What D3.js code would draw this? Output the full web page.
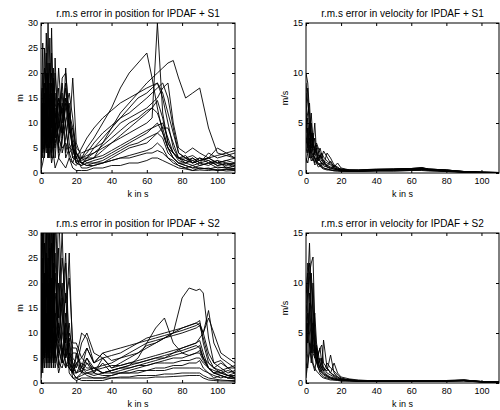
<!DOCTYPE html>
<html>
<head>
<meta charset="utf-8">
<script src="https://cdn.jsdelivr.net/npm/d3@7"></script>
<style>
  body { margin: 0; background: #fff; }
  svg { display: block; font-family: "Liberation Sans", Arial, Helvetica, sans-serif; }
</style>
</head>
<body>
<div id="chart"></div>
<script>
// time grids (s)
const kPos1 = [0,1,2,3,4,5,6,7,8,10,12,14,16,18,20,23,26,30,35,40,45,50,55,60,63,66,69,72,75,78,82,86,90,95,100,105,110];
const kPos2 = [0,1,2,3,4,5,6,7,8,10,12,14,16,18,20,23,26,30,35,40,45,50,55,60,65,70,75,80,84,88,90,92,95,98,102,106,110];
const kVel = [0,1,2,3,4,5,6,7,8,9,10,12,14,16,18,20,25,30,40,50,60,66,70,80,90,100,110];

const xTicks = [0, 20, 40, 60, 80, 100];
const posTicks = [0, 5, 10, 15, 20, 25, 30];
const velTicks = [0, 5, 10, 15];

const titles = [
  'r.m.s error in position for IPDAF + S1',
  'r.m.s error in velocity for IPDAF + S1',
  'r.m.s error in position for IPDAF + S2',
  'r.m.s error in velocity for IPDAF + S2'
];

// rms position error, S1 (m)
const posS1 = [
  [2,17,9,28,14,22,6,19,11,15,8,14,9,6,3,2,2.5,3,4.5,6,7.5,9,10.5,12,13,14.5,11,6,4,3,2.5,2,3,2.5,1.5,2,1.8],
  [12,5,25,10,31,8,18,4,20,9,14,10,14,5,2,1.5,2,2.5,3,4,5,6,7,8,9,10,8,5,3,2,1.5,1,1.5,2,1,1.2,0.8],
  [8,26,4,15,20,6,29,12,7,21,10,17,10,5,2,1.5,3,5,7,9,11,13,15,16,17,18,15,10,5,3,2.5,3,2,4,3,3.5,3],
  [5,10,18,6,12,27,9,16,3,12,18,9,4,5,2,3,5,7,10,13,17,20,22,24,19,13,8,5,4,3,3.5,2,2.5,3,2,1.5,2],
  [3,14,7,20,11,5,16,8,13,6,11,15,12,7,4,2,2.5,3,6,9,12,14,16,18,19,20,21,22,22.5,19,15,16,17,9,4,3.5,4],
  [9,4,13,7,22,10,5,14,8,17,7,10,3,2,4,3,3.5,4,5,6,7,8,9,10,11,30,12,6,4,3,2,2.5,1.5,2,2.5,1,1.5],
  [15,7,3,12,5,18,11,21,6,9,13,3,5,6,3,1,1,1.5,2,3,4,5,5.5,6,7,8,7,4,3,2,1.5,1,1,0.8,1.2,1,0.9],
  [1,8,14,5,9,3,13,6,23,4,7,15,6,3,2.5,2,1.5,1.5,2,2.5,3,3.5,4,4.5,5,6,5,3,2,1.5,1,0.5,1,0.8,0.5,0.8,0.6],
  [6,20,11,17,3,13,20,10,16,5,19,20,12,9,5,4,4.5,5,6,8,10,11,12,13,14,15,17,18,10,5,4,5,4,3,3.5,4,3],
  [3,11,6,24,7,15,4,9,12,3,6,21,9,5,3,5,7,9,11,12.5,14,15,16,17,17.5,18,16,12,8,4,3,2,2.5,3,5,4,4.5],
  [10,6,16,9,4,11,7,3,9,14,4,7,12,3,4,2,1.5,2,2,2.5,3,3,3.5,4,4,4.5,4,3,2.5,1.5,1,1.5,0.8,1,0.5,0.7,0.6],
  [4,13,5,11,15,9,3,18,14,10,8,13,16,11,4,2.5,3,4,5.5,7,8.5,10,11,12.5,13,12,9,5,3,2,2,3,2,1.5,2.5,2,1.5],
  [7,3,9,4,19,6,12,5,10,7,5,6,4,2,1.5,3,3,3,3.5,4.5,5.5,6.5,7.5,8.5,9,9.5,10,7,4,2.5,2,1.5,2,2.5,1.5,1.8,1.2],
  [13,9,21,16,8,12,15,7,5,11,16,4,8,19,6,3,2,2,2.5,3.5,4.5,5.5,6,7,7.5,8,9,9,6,3,3,3.5,2.5,3,2,2.5,3],
  [0.5,2,4,8,3,6,2,4,1,3,2,1,3,1,0.5,0.5,0.5,1,1,1.5,1.5,2,2,2.5,3,3,2.5,2,1.5,1,0.8,0.5,0.6,0.5,0.7,0.4,0.5],
  [17,12,8,14,10,13,24,11,7,15,12,18,8,9,3,3,4,6,8,9.5,11,12,13.5,15,16,17,18,15,9,4,3,2.5,3,2,2,2.5,2]
];

// rms position error, S2 (m)
const posS2 = [
  [35,8,22,4,31,12,40,6,18,10,5,14,3,2,4,3,2.5,3,2,2.5,3,3.5,4,4.5,5,5.5,6,7,7.5,8,8.5,6,3,2,2.5,1.5,2],
  [5,33,12,26,7,35,9,20,4,15,30,8,12,4,2,3,2,1.5,2,2,2.5,3,3.5,4,4.5,5,6,6.5,7,7.5,7,5,3,2,1.5,1,1.5],
  [20,3,38,9,15,4,28,11,34,6,12,24,5,6,6,3,7,4,5,3,4,5,6,7,8,9,10,11,11.5,12,12.5,8,4,3,2,2.5,2],
  [2,14,6,32,10,22,3,36,8,27,4,10,26,5,4,5,4,3,3.5,4,5,6,7,8,8.5,9,9.5,10,10.5,11,11.5,9,5,3,4,3,3.5],
  [12,25,5,18,36,8,14,4,22,9,17,6,9,3,5,10,9,4,6,4.5,5,5.5,6,7.5,8,9,10,17,19,18.5,18.8,18,9,4,3,2,2.5],
  [30,10,3,20,12,5,32,16,7,35,14,3,6,2,6,2,4,2,5,3,3.5,4,4.5,5,5.5,6,6.5,7,7.5,8,9,10,14.5,8,5,4,3],
  [8,38,15,6,25,11,18,30,12,5,9,18,4,3,2,4,3,3,2,2.5,3,3.5,5,8,11,13,8,6,5.5,6,6.5,5,4,3,2.5,3,2],
  [3,9,28,13,5,19,7,12,26,3,7,5,8,2,1,1.5,2,2.5,3,3.5,3.5,4,4,4.5,5,5,5.5,6,6.5,7,7.5,5,3,2,1.5,1,1],
  [15,6,10,37,4,14,10,24,5,20,6,9,3,2,2,2.5,1.5,1,1,1.5,2,2,2.5,2.5,3,3,3.5,3.5,4,4,4.5,3,2,1,1.5,1,0.8],
  [25,12,17,8,20,6,15,9,14,11,20,5,10,7,7,3,5,2,4,2,2,2,2,2.5,2.5,2.5,3,3,3,3,3,2.5,2,1.5,1,1.5,1],
  [6,20,8,14,3,30,5,10,3,7,4,12,2,1,0.5,1,1,1,1,1,1.2,1.2,1.5,1.5,1.5,1.8,1.8,2,2,2,2,1.5,1,0.8,0.6,0.5,0.5],
  [10,4,13,5,9,7,21,3,11,4,3,6,4,2,1,0.5,0.5,0.5,0.5,1,1,1,1,1,1.2,1.2,1.3,1.4,1.5,1.5,1.5,1,0.6,0.5,0.4,0.4,0.3],
  [18,30,7,24,14,9,4,17,38,13,25,16,21,8,8,5,7,4,6,6.5,7,7.5,8,8.5,9,9.5,10,10.5,11,11.5,12,10,6,4,4.5,3,3],
  [1,5,9,3,17,11,13,5,7,2,5,3,5,1,1,2,2,2,1.5,1.5,2,2.5,3,3.5,4,4.5,5,5,5.5,6,6,4.5,3,2,2,1.5,1.5],
  [28,15,22,11,7,27,12,35,10,8,16,26,6,4,3,8,10,6,5,5.5,6,7,8,9,9.5,10,10.5,11,11.5,12,11.5,10,13,10,6,5,4],
  [7,2,11,6,13,3,8,4,6,12,7,4,3,2,4,2,5,3,2,2.5,3,3,3.5,3.5,4,4,4,4.5,4.5,5,5,4,3,2.5,2,1.5,1]
];

// rms velocity error, S1 (m/s)
const velS1 = [
  [10,9,6,3,2,1.5,1.2,1,0.8,0.6,0.5,0.4,0.3,0.3,0.3,0.25,0.2,0.2,0.3,0.35,0.4,0.45,0.3,0.2,0.1,0.05,0.05],
  [7,8.5,4,2.5,3,5,2,1.8,1.5,1.2,1,0.8,0.6,0.5,0.4,0.3,0.25,0.25,0.3,0.3,0.35,0.5,0.35,0.25,0.15,0.08,0.05],
  [5,6,7,3.5,2,1.5,1,2,2.5,1.8,1.2,0.7,0.5,0.4,0.3,0.3,0.2,0.2,0.25,0.3,0.3,0.4,0.3,0.2,0.1,0.05,0.04],
  [3,4.5,2,5,3,2.5,2,1.5,1.2,1,0.8,2,1.5,0.8,0.5,0.4,0.3,0.3,0.35,0.4,0.45,0.4,0.35,0.3,0.15,0.1,0.05],
  [8,3,5,2,4,2,2.8,2.2,1.5,2,1.6,1.2,0.9,0.6,1,0.5,0.3,0.25,0.3,0.3,0.35,0.35,0.3,0.2,0.1,0.06,0.04],
  [2,3,1.5,4,2.5,3.5,1.8,1.2,1.8,1.4,1,0.7,1.2,0.6,0.4,0.3,0.3,0.3,0.4,0.4,0.45,0.55,0.4,0.3,0.15,0.08,0.05],
  [6,2.5,3.5,1.5,2,1,1.5,0.8,1,0.7,0.5,0.4,0.3,0.25,0.2,0.2,0.15,0.15,0.2,0.2,0.25,0.3,0.25,0.15,0.08,0.05,0.03],
  [1,2,4,6,3,1.8,2.5,1.6,1.2,0.9,0.7,0.6,0.5,0.4,0.3,0.25,0.2,0.2,0.3,0.35,0.4,0.4,0.35,0.25,0.12,0.06,0.04],
  [4,5.5,3,2,1.5,2.5,3,2.5,2,1.5,1.2,1,0.8,0.5,0.35,0.3,0.25,0.25,0.3,0.35,0.45,0.5,0.4,0.3,0.15,0.08,0.05],
  [9,7,5,4,2.5,2,1.5,1.2,1.8,1.5,2.2,1.6,1,0.7,0.5,0.4,0.3,0.3,0.35,0.4,0.45,0.5,0.4,0.3,0.12,0.06,0.04],
  [1.5,1,2,1.2,1.5,0.8,1,0.6,0.7,0.5,0.4,0.3,0.3,0.2,0.2,0.15,0.15,0.15,0.2,0.2,0.25,0.25,0.2,0.15,0.08,0.04,0.03],
  [3.5,2,2.8,1.6,1.2,1.6,1.1,0.9,0.7,1,0.9,0.6,0.4,0.8,0.6,0.3,0.2,0.2,0.25,0.3,0.35,0.4,0.3,0.2,0.1,0.05,0.04]
];

// rms velocity error, S2 (m/s)
const velS2 = [
  [5,10,14,8,5,3,2,1.5,1.2,1,0.8,0.6,0.5,0.4,0.35,0.3,0.25,0.2,0.2,0.2,0.2,0.2,0.2,0.25,0.25,0.15,0.1],
  [3,8,11,12,12.6,6,3,2,1.5,1.2,1,0.7,0.5,0.4,0.3,0.3,0.2,0.2,0.2,0.2,0.2,0.2,0.2,0.2,0.3,0.15,0.1],
  [8,12,10.5,6,4,3,3.8,2.5,2,1.5,1.2,0.8,0.6,0.5,0.4,0.35,0.3,0.2,0.2,0.2,0.2,0.2,0.2,0.2,0.25,0.12,0.08],
  [2,5,9,7,3,2.5,2,3,3.5,3.8,2,1.5,1,0.7,0.5,0.4,0.3,0.2,0.15,0.15,0.2,0.2,0.2,0.2,0.25,0.1,0.08],
  [1,3,6,11,8,4,2.5,1.8,1.5,1.2,4.3,1.5,1,0.8,0.6,0.4,0.3,0.2,0.2,0.2,0.2,0.2,0.2,0.25,0.3,0.15,0.1],
  [4,7,5,3,6,2.5,3.5,2,1.5,2.5,1.5,1.2,2.8,1,0.6,0.4,0.3,0.2,0.2,0.2,0.2,0.2,0.2,0.2,0.25,0.12,0.08],
  [6,4,8,5,3,4,2,3,1.8,1.5,1.2,2,1.5,1.2,0.8,0.5,0.3,0.25,0.2,0.2,0.2,0.2,0.2,0.2,0.25,0.15,0.1],
  [0.5,2,3,4,2,1.5,1.2,1,0.8,0.6,0.5,0.4,0.3,0.3,0.25,0.2,0.2,0.15,0.15,0.15,0.15,0.15,0.15,0.2,0.2,0.1,0.08],
  [9,11,7,4,10,5,3,2,2.5,1.8,1.5,1,0.8,0.6,0.4,0.35,0.3,0.2,0.2,0.2,0.2,0.2,0.2,0.25,0.3,0.15,0.1],
  [3,6,4,2,5,7,4,2.8,3.5,2,1.2,1.5,1,2,1,0.6,0.4,0.3,0.2,0.2,0.2,0.2,0.2,0.2,0.25,0.12,0.08],
  [2,1.5,4,2.5,1.8,1.2,2.5,1.5,1,0.8,0.6,0.5,0.4,0.3,0.3,0.2,0.2,0.15,0.15,0.15,0.15,0.15,0.15,0.2,0.2,0.1,0.06],
  [7,9,12,10,7,3.5,2.2,1.6,1.3,1.1,0.9,0.7,0.5,0.4,0.35,0.3,0.25,0.2,0.2,0.2,0.2,0.2,0.2,0.22,0.28,0.12,0.08]
];

const width = 500, height = 410;

const svg = d3.select('#chart').append('svg')
  .attr('width', width)
  .attr('height', height);

// four axes boxes, MATLAB subplot style
const panels = [
  { x0: 41, x1: 235, y0: 23, y1: 173, k: kPos1, runs: posS1, yMax: 30, yTicks: posTicks, ylabel: 'm', title: titles[0] },
  { x0: 306, x1: 499, y0: 23, y1: 173, k: kVel, runs: velS1, yMax: 15, yTicks: velTicks, ylabel: 'm/s', title: titles[1] },
  { x0: 41, x1: 235, y0: 233, y1: 383, k: kPos2, runs: posS2, yMax: 30, yTicks: posTicks, ylabel: 'm', title: titles[2] },
  { x0: 306, x1: 499, y0: 233, y1: 383, k: kVel, runs: velS2, yMax: 15, yTicks: velTicks, ylabel: 'm/s', title: titles[3] }
];

panels.forEach((p, i) => {
  const x = d3.scaleLinear().domain([0, 110]).range([p.x0, p.x1]);
  const y = d3.scaleLinear().domain([0, p.yMax]).range([p.y1, p.y0]);

  const clipId = 'clip' + i;
  svg.append('clipPath').attr('id', clipId)
    .append('rect')
    .attr('x', p.x0).attr('y', p.y0)
    .attr('width', p.x1 - p.x0).attr('height', p.y1 - p.y0);

  const line = d3.line()
    .x((d, j) => x(p.k[j]))
    .y((d) => y(d));

  svg.append('g')
    .attr('clip-path', `url(#${clipId})`)
    .selectAll('path')
    .data(p.runs)
    .join('path')
    .attr('d', line)
    .attr('fill', 'none')
    .attr('stroke', '#000')
    .attr('stroke-width', 0.9)
    .attr('stroke-linejoin', 'round');

  // axes with inward ticks on all four sides
  const tl = 3;
  const bottom = svg.append('g').attr('transform', `translate(0,${p.y1})`)
    .call(d3.axisBottom(x).tickValues(xTicks).tickSize(-tl).tickPadding(5));
  const top = svg.append('g').attr('transform', `translate(0,${p.y0})`)
    .call(d3.axisTop(x).tickValues(xTicks).tickSize(-tl).tickFormat(''));
  const left = svg.append('g').attr('transform', `translate(${p.x0},0)`)
    .call(d3.axisLeft(y).tickValues(p.yTicks).tickSize(-tl).tickPadding(3));
  const right = svg.append('g').attr('transform', `translate(${p.x1},0)`)
    .call(d3.axisRight(y).tickValues(p.yTicks).tickSize(-tl).tickFormat(''));

  [bottom, top, left, right].forEach((a) => {
    a.select('.domain').remove();
    a.selectAll('line').attr('stroke', '#000').attr('stroke-width', 1);
    a.selectAll('text').attr('font-size', 9).attr('fill', '#000')
      .attr('font-family', '"Liberation Sans", Arial, sans-serif');
  });

  svg.append('rect')
    .attr('x', p.x0).attr('y', p.y0)
    .attr('width', p.x1 - p.x0).attr('height', p.y1 - p.y0)
    .attr('fill', 'none').attr('stroke', '#000').attr('stroke-width', 1);

  svg.append('text')
    .attr('x', (p.x0 + p.x1) / 2).attr('y', p.y0 - 6)
    .attr('text-anchor', 'middle')
    .attr('font-size', 10)
    .text(p.title);

  svg.append('text')
    .attr('x', (p.x0 + p.x1) / 2).attr('y', p.y1 + 24)
    .attr('text-anchor', 'middle')
    .attr('font-size', 9)
    .text('k in s');

  svg.append('text')
    .attr('transform', `translate(${p.x0 - 18},${(p.y0 + p.y1) / 2}) rotate(-90)`)
    .attr('text-anchor', 'middle')
    .attr('font-size', 9)
    .text(p.ylabel);
});
</script>
</body>
</html>
